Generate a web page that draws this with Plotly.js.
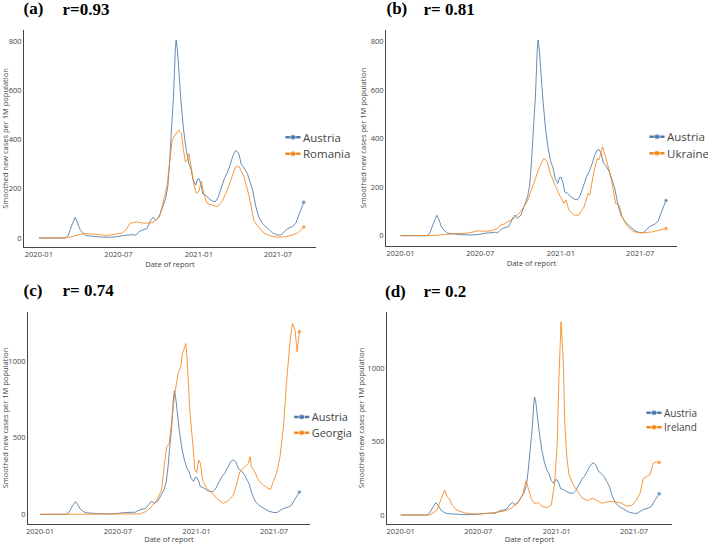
<!DOCTYPE html>
<html>
<head>
<meta charset="utf-8">
<script src="https://cdn.plot.ly/plotly-3.0.1.min.js"></script>
<style>
html,body{margin:0;padding:0;background:#fff;}
#wrap{width:708px;height:544px;overflow:hidden;position:relative;}
#chart{width:1416px;height:1088px;transform:scale(0.5);transform-origin:0 0;}
</style>
</head>
<body>
<div id="wrap"><div id="chart"></div></div>
<script>
// ---------------- data ----------------
const austriaDates = ['2020-01-01','2020-03-01','2020-03-08','2020-03-16','2020-03-24','2020-03-29','2020-04-04','2020-04-12','2020-04-18','2020-05-01','2020-05-20','2020-06-12','2020-06-27','2020-07-12','2020-07-28','2020-08-05','2020-08-09','2020-08-17','2020-08-24','2020-09-04','2020-09-14','2020-09-19','2020-09-24','2020-10-02','2020-10-09','2020-10-17','2020-10-22','2020-10-26','2020-10-30','2020-11-04','2020-11-08','2020-11-10','2020-11-13','2020-11-16','2020-11-21','2020-11-27','2020-12-03','2020-12-09','2020-12-14','2020-12-19','2020-12-25','2020-12-29','2021-01-02','2021-01-06','2021-01-10','2021-01-16','2021-01-24','2021-02-01','2021-02-08','2021-02-14','2021-02-22','2021-03-01','2021-03-07','2021-03-14','2021-03-20','2021-03-26','2021-03-30','2021-04-03','2021-04-08','2021-04-13','2021-04-22','2021-04-30','2021-05-04','2021-05-11','2021-05-18','2021-05-27','2021-06-07','2021-06-19','2021-06-30','2021-07-08','2021-07-15','2021-07-23','2021-08-04','2021-08-11','2021-08-19','2021-08-29'];
const austriaCases = [0,0,10,50,84,65,35,18,10,7,4,3,5,10,13,14,11,25,32,38,75,85,72,85,120,160,210,304,430,575,760,805,765,690,560,440,360,304,280,236,215,240,240,215,180,175,160,150,148,165,210,245,265,300,335,355,352,340,300,290,262,220,195,130,85,58,40,20,12,12,25,38,48,60,100,145];

const romaniaDates = ['2020-01-01','2020-03-01','2020-03-16','2020-04-04','2020-04-19','2020-05-12','2020-06-04','2020-06-24','2020-07-09','2020-07-19','2020-07-28','2020-08-12','2020-08-28','2020-09-16','2020-09-27','2020-10-05','2020-10-13','2020-10-20','2020-11-01','2020-11-08','2020-11-16','2020-11-22','2020-11-27','2020-12-01','2020-12-05','2020-12-09','2020-12-13','2020-12-20','2020-12-26','2021-01-01','2021-01-07','2021-01-12','2021-01-20','2021-01-31','2021-02-12','2021-02-23','2021-03-07','2021-03-18','2021-03-26','2021-04-03','2021-04-14','2021-04-26','2021-05-07','2021-05-15','2021-05-30','2021-06-15','2021-06-30','2021-07-15','2021-07-31','2021-08-15','2021-08-29'];
const romaniaCases = [0,0,5,15,18,15,10,15,20,35,60,66,60,62,75,100,155,209,399,419,439,425,358,310,315,344,304,223,182,190,231,182,141,134,127,148,195,250,290,290,250,170,70,50,20,8,3,5,10,20,45];

const ukraineDates = ['2020-01-01','2020-02-28','2020-03-18','2020-04-10','2020-05-03','2020-06-02','2020-06-25','2020-07-10','2020-07-26','2020-08-10','2020-08-16','2020-08-24','2020-09-08','2020-09-17','2020-10-01','2020-10-16','2020-10-31','2020-11-12','2020-11-23','2020-12-01','2020-12-08','2020-12-20','2020-12-31','2021-01-08','2021-01-13','2021-01-19','2021-01-31','2021-02-11','2021-02-23','2021-03-04','2021-03-08','2021-03-18','2021-03-25','2021-03-29','2021-04-06','2021-04-13','2021-04-21','2021-04-28','2021-05-06','2021-05-14','2021-05-21','2021-06-02','2021-06-17','2021-07-02','2021-07-27','2021-08-11','2021-08-29'];
const ukraineCases = [0,0,1,5,8,10,20,18,20,30,44,48,64,72,99,140,215,277,318,306,256,202,160,133,147,106,85,85,119,174,167,270,318,312,366,325,270,215,133,125,78,37,16,12,15,22,30];

const georgiaDates = ['2020-01-01','2020-08-22','2020-09-02','2020-09-14','2020-09-30','2020-10-11','2020-10-19','2020-10-23','2020-10-29','2020-11-04','2020-11-11','2020-11-19','2020-11-25','2020-11-29','2020-12-03','2020-12-07','2020-12-10','2020-12-16','2020-12-23','2020-12-28','2021-01-01','2021-01-06','2021-01-10','2021-01-15','2021-01-24','2021-02-05','2021-02-17','2021-03-04','2021-03-16','2021-03-28','2021-04-04','2021-04-12','2021-04-24','2021-05-02','2021-05-06','2021-05-09','2021-05-17','2021-05-25','2021-06-06','2021-06-17','2021-06-23','2021-06-29','2021-07-07','2021-07-15','2021-07-23','2021-07-30','2021-08-07','2021-08-13','2021-08-19','2021-08-24','2021-08-29'];
const georgiaCases = [0,3,15,39,93,159,354,441,463,615,789,920,963,1050,1083,1115,1007,680,463,289,272,354,333,224,170,141,104,72,89,126,191,278,311,333,376,311,278,224,191,170,163,213,267,376,572,854,1115,1246,1202,1061,1191];

const irelandDates = ['2020-01-01','2020-03-10','2020-03-26','2020-04-07','2020-04-13','2020-04-19','2020-04-25','2020-04-30','2020-05-12','2020-05-28','2020-06-13','2020-07-06','2020-08-07','2020-08-31','2020-09-15','2020-10-01','2020-10-13','2020-10-17','2020-10-21','2020-10-26','2020-11-02','2020-11-09','2020-11-19','2020-11-29','2020-12-11','2020-12-19','2020-12-27','2021-01-02','2021-01-06','2021-01-11','2021-01-16','2021-01-20','2021-01-25','2021-01-30','2021-02-07','2021-02-19','2021-03-02','2021-03-14','2021-03-25','2021-04-06','2021-04-17','2021-04-29','2021-05-14','2021-05-30','2021-06-14','2021-06-26','2021-07-07','2021-07-15','2021-07-23','2021-07-30','2021-08-07','2021-08-15','2021-08-24','2021-08-29'];
const irelandCases = [0,0,34,125,170,125,107,68,34,16,9,7,16,27,45,80,136,193,234,182,114,80,84,57,52,68,216,489,943,1318,1057,602,375,273,216,159,114,98,114,98,80,91,91,84,61,66,102,148,250,261,275,352,365,358];

const panelLabels = ['(a)','(b)','(c)','(d)'];
const rLabels = ['r=0.93','r= 0.81','r= 0.74','r= 0.2'];
const baseName = 'Austria';
const otherNames = ['Romania','Ukraine','Georgia','Ireland'];
const otherDates = [romaniaDates, ukraineDates, georgiaDates, irelandDates];
const otherCases = [romaniaCases, ukraineCases, georgiaCases, irelandCases];
const yTickStep = [200, 200, 500, 500];

// ---------------- layout geometry (final px on a 708x544 page) ----------------
const W = 708, H = 544, S = 2;
const panelBox = [
  {l:24, r:316, t:30, b:247, xr:['2019-11-28','2021-09-26'], yr:[-36.6,845.9], leg:{x:283, y:145.5, fs:23}, lab:{x:22.7, rx:61.7, y:8.5}},
  {l:386, r:677, t:30, b:246, xr:['2019-11-29','2021-09-23'], yr:[-42.4,846.5], leg:{x:647, y:145, fs:23}, lab:{x:385.7, rx:422.3, y:8.5}},
  {l:28, r:310, t:312, b:524, xr:['2019-12-04','2021-09-23'], yr:[-63,1320], leg:{x:291.7, y:425, fs:22}, lab:{x:22.7, rx:61.7, y:290.3}},
  {l:387, r:672, t:312, b:524, xr:['2019-11-30','2021-09-28'], yr:[-61,1384], leg:{x:644, y:420, fs:20}, lab:{x:384, rx:422.3, y:291.2}}
];

const BLUE = '#4C78A8', ORANGE = '#F58518';
const fontFam = '"Open Sans", "DejaVu Sans", sans-serif';

function endMarkerSizes(arr){ return arr.map((v,i)=> i === arr.length-1 ? 8 : 0); }

const traces = [];
const layout = {
  width: W*S, height: H*S,
  margin: {l:0, r:0, t:0, b:0, autoexpand:false},
  paper_bgcolor: '#fff', plot_bgcolor: '#fff',
  font: {family: fontFam, color: '#444', size: 15},
  showlegend: true,
  annotations: []
};

panelBox.forEach((p, i) => {
  const n = i === 0 ? '' : String(i+1);
  const legId = 'legend' + n;
  const xa = 'x' + n, ya = 'y' + n;
  traces.push({
    x: austriaDates, y: austriaCases, name: baseName, type: 'scatter', mode: 'lines+markers',
    line: {color: BLUE, width: 1.7}, marker: {color: BLUE, size: endMarkerSizes(austriaCases)},
    xaxis: xa, yaxis: ya, legend: legId, hoverinfo: 'skip'
  });
  traces.push({
    x: otherDates[i], y: otherCases[i], name: otherNames[i], type: 'scatter', mode: 'lines+markers',
    line: {color: ORANGE, width: 1.7}, marker: {color: ORANGE, size: endMarkerSizes(otherCases[i])},
    xaxis: xa, yaxis: ya, legend: legId, hoverinfo: 'skip'
  });
  layout['xaxis' + n] = {
    domain: [p.l/W, p.r/W], anchor: ya, range: p.xr, type: 'date',
    tickformat: '%Y-%m', dtick: 'M6', tick0: '2020-01-01',
    showline: true, linecolor: '#444', linewidth: 2, showgrid: false, zeroline: false,
    ticks: '', tickfont: {size: 15, color: '#444'},
    title: {text: 'Date of report', font: {size: 15, color: '#444'}, standoff: 1}
  };
  layout['yaxis' + n] = {
    domain: [1 - p.b/H, 1 - p.t/H], anchor: xa, range: p.yr,
    dtick: yTickStep[i], tick0: 0,
    showline: true, linecolor: '#444', linewidth: 2, showgrid: false, zeroline: false,
    ticks: '', tickfont: {size: 15, color: '#444'},
    title: {text: 'Smoothed new cases per 1M population', font: {size: 15, color: '#444'}}
  };
  layout[legId] = {
    x: p.leg.x/W, y: 1 - p.leg.y/H, xanchor: 'left', yanchor: 'middle',
    xref: 'paper', yref: 'paper',
    font: {size: p.leg.fs, color: '#444', family: fontFam},
    bgcolor: 'rgba(0,0,0,0)', borderwidth: 0, itemsizing: 'constant', tracegroupgap: 0
  };
  const titleFont = {family: '"Liberation Serif", "Times New Roman", serif', size: 34, color: '#000', weight: 700};
  layout.annotations.push({
    text: panelLabels[i], xref: 'paper', yref: 'paper', x: p.lab.x/W, y: 1 - p.lab.y/H,
    xanchor: 'left', yanchor: 'middle', showarrow: false, font: titleFont
  });
  layout.annotations.push({
    text: rLabels[i], xref: 'paper', yref: 'paper', x: p.lab.rx/W, y: 1 - p.lab.y/H,
    xanchor: 'left', yanchor: 'middle', showarrow: false, font: titleFont
  });
});

Plotly.newPlot('chart', traces, layout, {displayModeBar: false, staticPlot: true});
</script>
</body>
</html>
